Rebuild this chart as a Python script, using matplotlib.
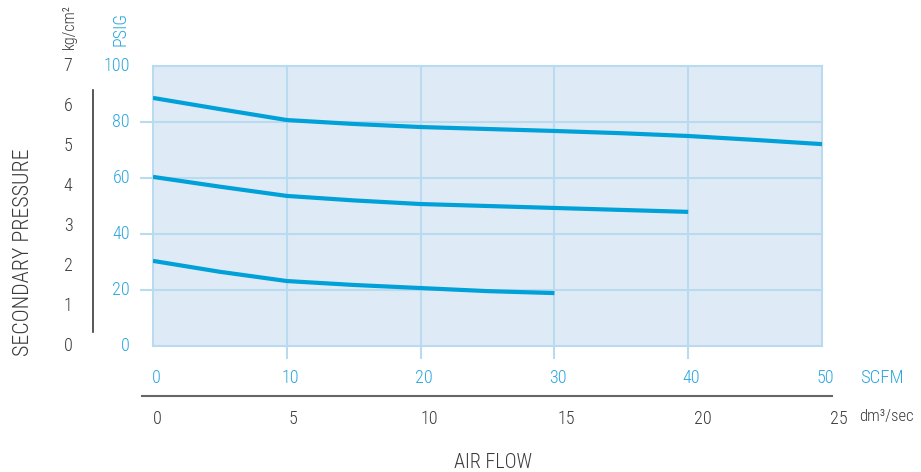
import matplotlib
matplotlib.use('Agg')
import matplotlib.pyplot as plt
from matplotlib import font_manager
from matplotlib.transforms import blended_transform_factory

# ---- data ----
scfm = [0, 5, 10, 15, 20, 25, 30, 35, 40, 45, 50]
p_high = [88.6, 84.6, 80.7, 79.3, 78.2, 77.5, 76.8, 76.0, 75.0, 73.6, 72.1]
p_mid = [60.4, 56.9, 53.6, 52.0, 50.7, 50.0, 49.3, 48.6, 47.9]
p_low = [30.4, 26.5, 23.2, 21.8, 20.7, 19.6, 18.9]

psig_ticks = [0, 20, 40, 60, 80, 100]
kg_ticks = [0, 1, 2, 3, 4, 5, 6, 7]
scfm_ticks = [0, 10, 20, 30, 40, 50]
dm3_ticks = [0, 5, 10, 15, 20, 25]

BLUE = '#00a0d8'
TXTBLUE = '#2ba6de'
GRID = '#b9daef'
FILL = '#deebf6'
DARK = '#3a3a3a'

names = {f.name for f in font_manager.fontManager.ttflist}
fam = 'DejaVu Sans'
for cand in ['Roboto Condensed', 'Liberation Sans Narrow', 'DejaVu Sans Condensed']:
    if cand in names:
        fam = cand
        break
plt.rcParams['font.family'] = [fam, 'DejaVu Sans']
plt.rcParams['font.weight'] = 'light'

W, H = 921, 472
fig = plt.figure(figsize=(W / 100, H / 100), dpi=100)


def fx(px):
    return px / W


def fy(py):
    return 1 - py / H


ax = fig.add_axes([fx(153), fy(346), fx(822) - fx(153), fy(66) - fy(346)])
ax.set_xlim(0, 50)
ax.set_ylim(0, 100)
ax.set_facecolor(FILL)
for s in ax.spines.values():
    s.set_color(GRID)
    s.set_linewidth(1.5)
ax.set_xticks([])
ax.set_yticks([])

# grid lines, some poking outside the box
for v in [20, 40, 60, 80]:
    ax.plot([-0.9, 50], [v, v], color=GRID, lw=1.5, clip_on=False, zorder=1)
for v in [10, 20, 30, 40]:
    ax.plot([v, v], [-4.3, 100], color=GRID, lw=1.5, clip_on=False, zorder=1)

ax.plot(scfm[:len(p_high)], p_high, color=BLUE, lw=3, solid_capstyle='butt', zorder=3)
ax.plot(scfm[:len(p_mid)], p_mid, color=BLUE, lw=3, solid_capstyle='butt', zorder=3)
ax.plot(scfm[:len(p_low)], p_low, color=BLUE, lw=3, solid_capstyle='butt', zorder=3)

# PSIG labels
tr = blended_transform_factory(fig.transFigure, ax.transData)
for v in psig_ticks:
    fig.text(fx(130), v, str(v), color=TXTBLUE, fontsize=13,
             ha='right', va='center', transform=tr)
fig.text(fx(120), fy(29), 'PSIG', color=TXTBLUE, fontsize=13, rotation=90,
         ha='center', va='center')

# kg/cm2 labels (0..7 spans the same height as 0..100 psig)
axk = fig.add_axes([fx(48), fy(346), fx(88) - fx(48), fy(66) - fy(346)], frameon=False)
axk.set_xlim(0, 1)
axk.set_ylim(0, 7)
axk.set_xticks([])
axk.set_yticks([])
for v in kg_ticks:
    axk.text(0.5, v, str(v), color=DARK, fontsize=13, ha='center', va='center')
fig.text(fx(69), fy(27), 'kg/cm²', color=DARK, fontsize=11.5, rotation=90,
         ha='center', va='center')

fig.add_artist(plt.Line2D([fx(93), fx(93)], [fy(90), fy(332)], color=DARK, lw=1.2))
fig.text(fx(24), fy(252), 'SECONDARY PRESSURE', rotation=90, color=DARK,
         fontsize=15.8, ha='center', va='center')

# SCFM labels
for v in scfm_ticks:
    ax.text(v + 0.25, -11.5, str(v), color=TXTBLUE, fontsize=13,
            ha='center', va='center', clip_on=False)
fig.text(fx(882), fy(378), 'SCFM', color=TXTBLUE, fontsize=13.5,
         ha='center', va='center')

# dm3/sec axis
axd = fig.add_axes([fx(157), fy(421), fx(839) - fx(157), 0.01], frameon=False)
axd.set_xlim(0, 25)
axd.set_ylim(0, 1)
axd.set_xticks([])
axd.set_yticks([])
for v in dm3_ticks:
    axd.text(v, 0.5, str(v), color=DARK, fontsize=13, ha='center', va='center')
fig.add_artist(plt.Line2D([fx(142), fx(832)], [fy(395.5), fy(395.5)], color='#666666', lw=1.5))
fig.text(fx(886), fy(417), 'dm³/sec', color=DARK, fontsize=12,
         ha='center', va='center')

fig.text(fx(493), fy(462), 'AIR FLOW', color=DARK, fontsize=14.5,
         ha='center', va='center')

fig.savefig('out.png', dpi=100)
